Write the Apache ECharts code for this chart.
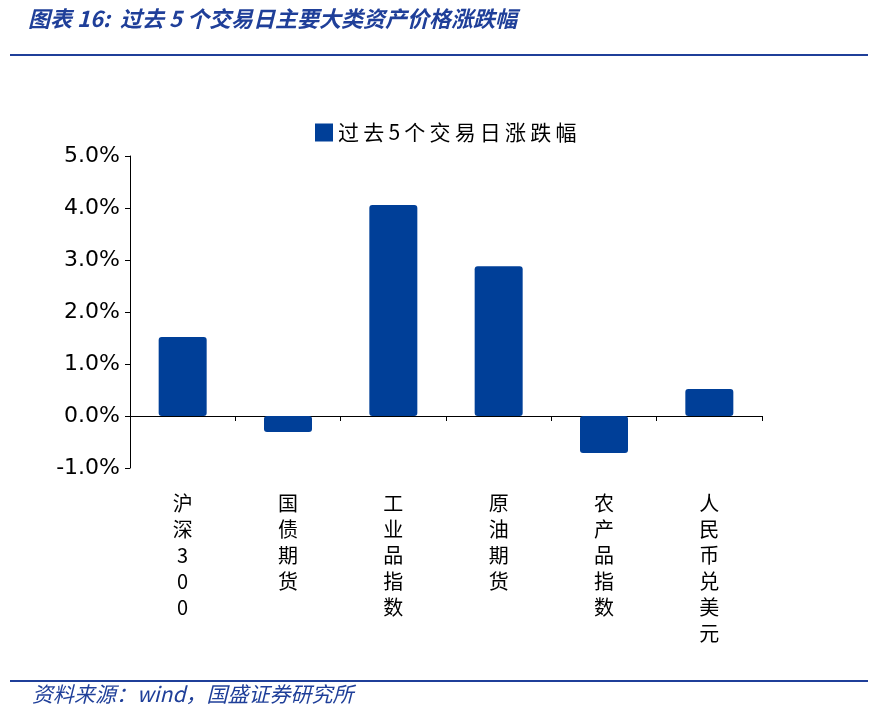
<!DOCTYPE html><html><head><meta charset="utf-8"><script src="https://cdn.jsdelivr.net/npm/echarts@6/dist/echarts.min.js"></script>
<style>html,body{margin:0;padding:0;background:#fff}#c{width:876px;height:724px}</style></head><body><div id="c"></div><script>
const categories=['沪深300','国债期货','工业品指数','原油期货','农产品指数','人民币兑美元'];
const values=[1.52,-0.31,4.06,2.88,-0.71,0.52];
const seriesName='过去5个交易日涨跌幅';
const c=echarts.init(document.getElementById('c'));
const font='"Noto Sans CJK SC", sans-serif';
const sp=s=>s.split('').join('\u2009');
c.setOption({
 animation:false,
 textStyle:{fontFamily:font},
 graphic:[
  {type:'text',left:28,top:8,style:{text:'图表 16:  过去 5 个交易日主要大类资产价格涨跌幅',fill:'#1f3f99',font:'italic bold 22px "Noto Sans CJK SC"'}},
  {type:'rect',shape:{x:10,y:54,width:858,height:2},style:{fill:'#1f3f99'}},
  {type:'rect',shape:{x:10,y:680,width:858,height:2},style:{fill:'#1f3f99'}},
  {type:'text',left:32,top:684,style:{text:'资料来源：wind，国盛证券研究所',fill:'#1f3f99',font:'italic 21px "Noto Sans CJK SC"'}}
 ],
 legend:{top:117,left:310,itemWidth:18,itemHeight:18,itemGap:6,icon:'rect',textStyle:{fontSize:21,color:'#000'},data:[seriesName],formatter:n=>sp(n)},
 grid:{left:130,right:114,top:156,bottom:256},
 xAxis:[{type:'category',data:categories,axisLine:{onZero:true,lineStyle:{color:'#000'}},axisTick:{show:true,length:5,lineStyle:{color:'#000'}},axisLabel:{show:false}},
  {type:'category',data:categories,position:'bottom',axisLine:{show:false},axisTick:{show:false},
   axisLabel:{margin:22,fontSize:20,color:'#000',lineHeight:26,verticalAlign:'top',formatter:v=>v.split('').join('\n')}}],
 yAxis:{type:'value',min:-1,max:5,interval:1,splitLine:{show:false},axisLine:{show:true,lineStyle:{color:'#000'}},axisTick:{show:true,length:5,lineStyle:{color:'#000'}},
  axisLabel:{fontSize:22,margin:10,color:'#000',fontFamily:'"DejaVu Sans"',formatter:v=>v.toFixed(1)+'%'}},
 series:[{name:seriesName,type:'bar',data:values,barWidth:48,itemStyle:{color:'#003f98',borderRadius:3}}]
});
</script></body></html>
